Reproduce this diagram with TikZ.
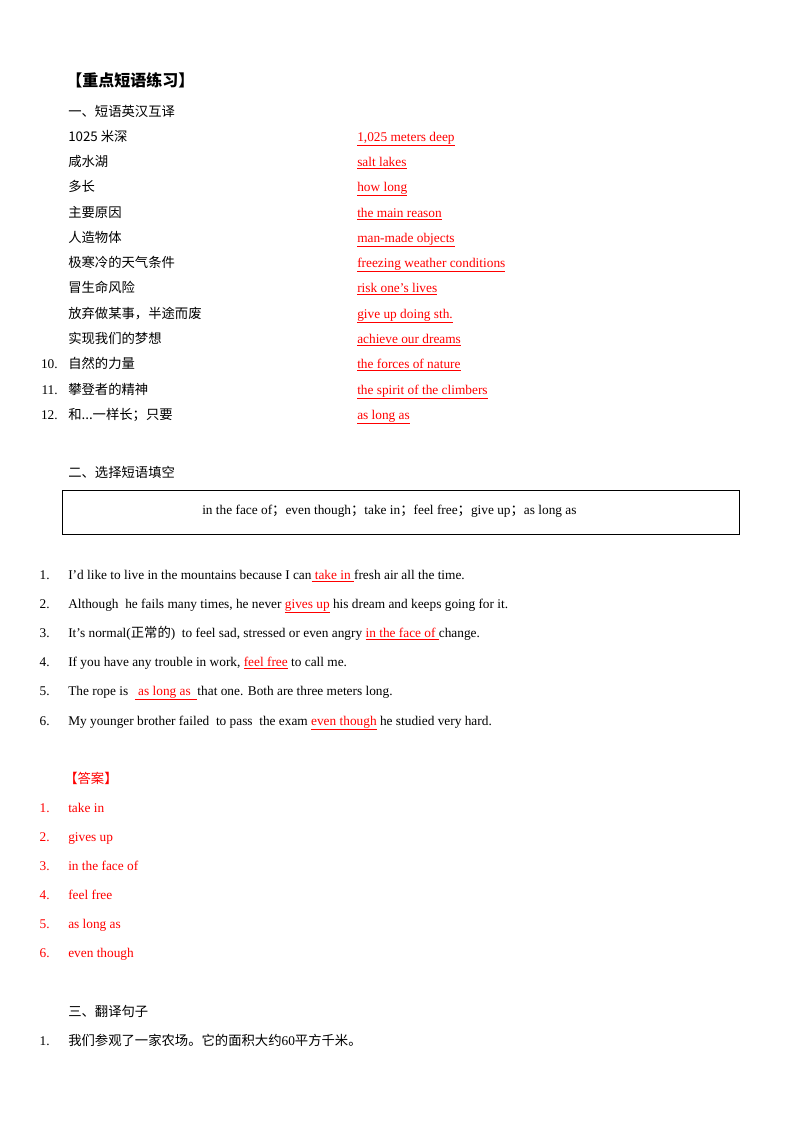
\documentclass[tikz,border=0pt]{standalone}
\usepackage{fontspec}
\setmainfont{Liberation Serif}
\newfontfamily\cjk{Noto Sans CJK SC}
\newcommand{\rb}[1]{\textcolor{red}{\underline{#1}}}
\newcommand{\tdots}{.\kern0pt.\kern0pt.}
\begin{document}
\begin{tikzpicture}[x=0.75pt,y=-0.75pt,
  t/.style={anchor=base west,inner sep=0pt,font=\fontsize{10}{12}\selectfont},
  r/.style={t,text=red},
  n/.style={anchor=base east,inner sep=0pt,font=\fontsize{10}{12}\selectfont}]
\useasboundingbox (0,0) rectangle (800,1132);
\node[t,font=\fontsize{12}{14}\selectfont\bfseries] (h) at (66,86) {\cjk 【重点短语练习】};
\node[t] (s1) at (68,116) {\cjk 一、短语英汉互译};
\foreach \i/\yy/\c/\e in {1/141/1025 米深/{1,025 meters deep},2/166/咸水湖/salt lakes,3/191/多长/how long,4/217/主要原因/the main reason,5/242/人造物体/man-made objects,6/267/极寒冷的天气条件/freezing weather conditions,7/292/冒生命风险/risk one’s lives,8/318/放弃做某事，半途而废/give up doing sth.,9/343/实现我们的梦想/achieve our dreams,10/368/自然的力量/the forces of nature,11/394/攀登者的精神/the spirit of the climbers,12/419/和\tdots 一样长；只要/as long as}{
  \node[t] (c\i) at (68,\yy) {\cjk \c};
  \node[r] (e\i) at (357,\yy) {\underline{\e}};
}
\foreach \i/\yy in {10/368,11/394,12/419}{\node[n] (m\i) at (58,\yy) {\i.};}
\node[t] (s2) at (68,477) {\cjk 二、选择短语填空};
\draw[line width=0.6pt] (62,490) rectangle (739,534);
\node[t] (w) at (202,514) {in the face of\cjk ；\rmfamily even though\cjk ；\rmfamily take in\cjk ；\rmfamily feel free\cjk ；\rmfamily give up\cjk ；\rmfamily as long as};
\foreach \i/\yy in {1/579,2/608,3/637,4/666,5/695,6/725}{\node[n] (q\i) at (50,\yy) {\i.};}
\node[t] (p1) at (68,579) {I’d like to live in the mountains because I can\rb{\ take in\ }fresh air all the time.};
\node[t] (p2) at (68,608) {Although\ \ he fails many times, he never \rb{gives up} his dream and keeps going for it.};
\node[t] (p3) at (68,637) {It’s normal({\cjk 正常的})\ \ to feel sad, stressed or even angry \rb{in the face of }change.};
\node[t] (p4) at (68,666) {If you have any trouble in work, \rb{feel free} to call me.};
\node[t] (p5) at (68,695) {The rope is\ \ \rb{\ as long as\ \ }that one. Both are three meters long.};
\node[t] (p6) at (68,725) {My younger brother failed\ \ to pass\ \ the exam \rb{even though} he studied very hard.};
\node[r] (ans) at (64,783) {\cjk 【答案】};
\foreach \i/\yy/\a in {1/812/take in,2/841/gives up,3/870/in the face of,4/899/feel free,5/928/as long as,6/957/even though}{
  \node[n,text=red] (an\i) at (50,\yy) {\i.};
  \node[r] (a\i) at (68,\yy) {\a};
}
\node[t] (s3) at (68,1016) {\cjk 三、翻译句子};
\node[n] (z1) at (50,1045) {1.};
\node[t] (z) at (68,1045) {\cjk 我们参观了一家农场。它的面积大约\rmfamily 60\cjk 平方千米。};
\end{tikzpicture}
\end{document}
